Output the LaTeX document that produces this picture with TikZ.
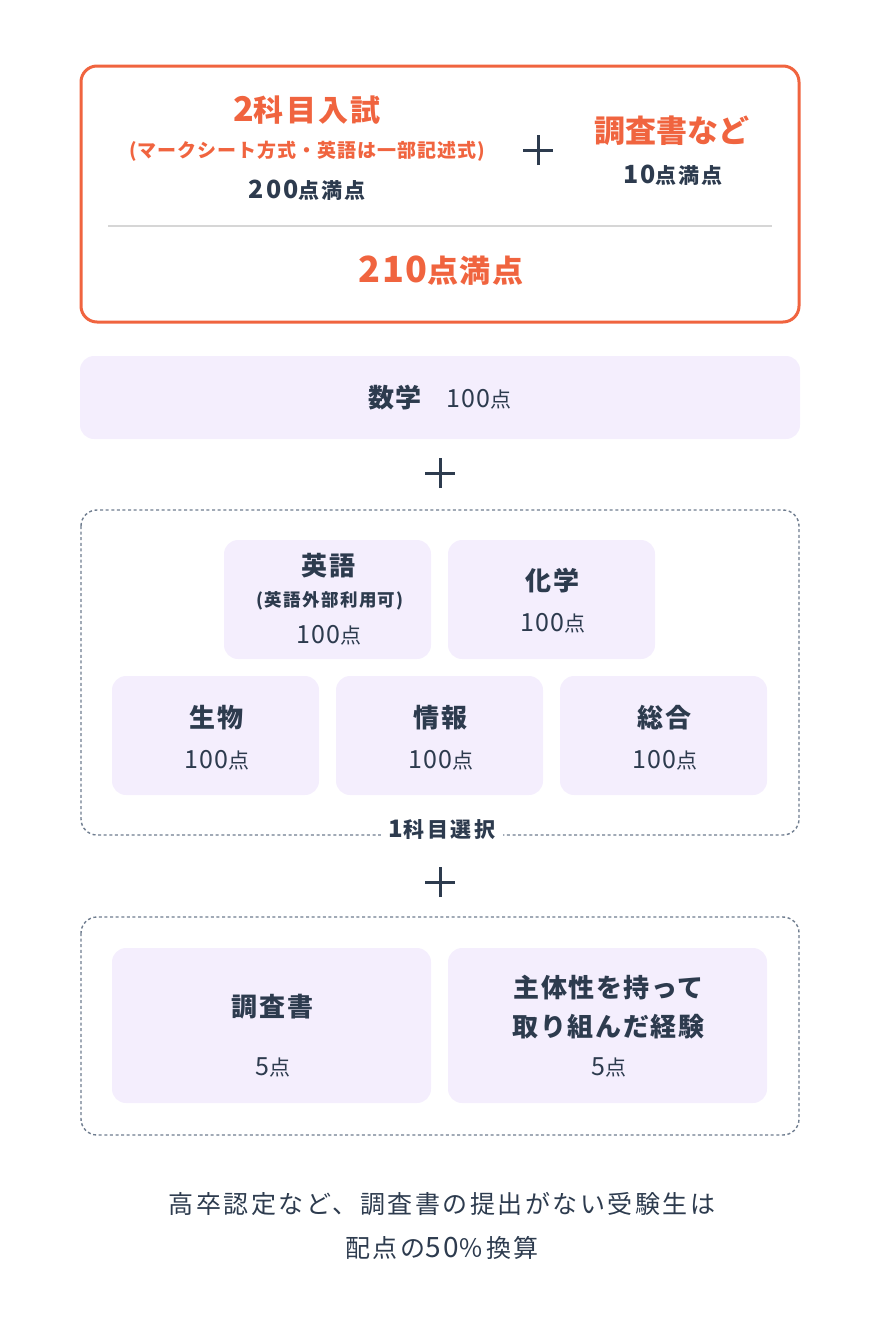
\documentclass[tikz,border=0pt]{standalone}
\usepackage{fontspec}
\setmainfont{Noto Sans CJK JP}
\newfontfamily\jp{Noto Sans CJK JP}
\definecolor{accent}{HTML}{F0643F}
\definecolor{ink}{HTML}{2D3B4E}
\definecolor{lav}{HTML}{F4EEFD}
\definecolor{dashgray}{HTML}{6F7D8F}
\definecolor{rulegray}{HTML}{D6D6D6}
\newcommand{\fs}[1]{\fontsize{#1}{#1}\selectfont}
\newcommand{\ls}[1]{\addfontfeature{LetterSpace=#1}}
\newcommand{\dg}[2]{{\fs{#1}#2}}
\begin{document}
\begin{tikzpicture}[x=1pt,y=-1pt,
  every node/.style={inner sep=0pt,outer sep=0pt,anchor=center},
  card/.style={fill=lav,rounded corners=14pt,draw=none},
  group/.style={draw=dashgray,line width=1.4pt,dash pattern=on 3pt off 2.6pt,rounded corners=16pt},
  title/.style={font=\jp\bfseries\fs{26}\ls{6},text=ink},
  sub/.style={font=\jp\bfseries\fs{17.5}\ls{8},text=ink},
  pts/.style={font=\jp\fs{21}\ls{4},text=ink},
  plusbar/.style={draw=ink,line width=3pt}]
\useasboundingbox (0,0) rectangle (880,1336);

% top box
\draw[accent,line width=3pt,rounded corners=16pt] (81,66) rectangle (799,322);
\node[font=\jp\bfseries\fs{30}\ls{8},text=accent] (t1) at (307,110) {\dg{34}{2}科目入試};
\node[font=\jp\bfseries\fs{19}\ls{5},text=accent] (t1s) at (307,151) {(マークシート方式・英語は一部記述式)};
\node[font=\jp\bfseries\fs{21}\ls{9},text=ink] (t1p) at (307,190) {\dg{25}{200}点満点};
\coordinate (p1) at (538,150);
\draw[plusbar] ([xshift=-15pt]p1) -- ([xshift=15pt]p1);
\draw[plusbar] ([yshift=-15pt]p1) -- ([yshift=15pt]p1);
\node[font=\jp\bfseries\fs{31},text=accent] (t2) at (672,131) {調査書など};
\node[font=\jp\bfseries\fs{21}\ls{9},text=ink] (t2p) at (673,175) {\dg{25}{10}点満点};
\coordinate (r1) at (108,226);
\coordinate (r2) at (772,226);
\draw[rulegray,line width=1.6pt] (r1) -- (r2);
\node[font=\jp\bfseries\fs{31}\ls{4},text=accent] (tot) at (441,271) {\dg{36}{210}点満点};

% math
\node[card,minimum width=720pt,minimum height=83pt] (math) at (440,397.5) {};
\node[title] (mathT) at (395,398) {数学};
\node[pts] (mathP) at (479,399) {\dg{25}{100}点};

\coordinate (p2) at (440,473);
\draw[plusbar] ([xshift=-15pt]p2) -- ([xshift=15pt]p2);
\draw[plusbar] ([yshift=-15pt]p2) -- ([yshift=15pt]p2);

% choice group
\draw[group] (81,510) rectangle (799,835);
\node[card,minimum width=207pt,minimum height=119pt] (eng) at (327.5,599.5) {};
\node[title] (engT) at (328.5,566) {英語};
\node[sub] (engS) at (330,601) {(英語外部利用可)};
\node[pts] (engP) at (329,635) {\dg{25}{100}点};
\node[card,minimum width=207pt,minimum height=119pt] (chem) at (551.5,599.5) {};
\node[title] (chemT) at (552.5,581) {化学};
\node[pts] (chemP) at (553,623) {\dg{25}{100}点};
\node[card,minimum width=207pt,minimum height=119pt] (bio) at (215.5,735.5) {};
\node[title] (bioT) at (216.5,718) {生物};
\node[pts] (bioP) at (217,760) {\dg{25}{100}点};
\node[card,minimum width=207pt,minimum height=119pt] (info) at (439.5,735.5) {};
\node[title] (infoT) at (440.5,718) {情報};
\node[pts] (infoP) at (441,760) {\dg{25}{100}点};
\node[card,minimum width=207pt,minimum height=119pt] (gen) at (663.5,735.5) {};
\node[title] (genT) at (664.5,718) {総合};
\node[pts] (genP) at (665,760) {\dg{25}{100}点};
\node[fill=white,inner xsep=8pt,inner ysep=3pt,font=\jp\bfseries\fs{21}\ls{12},text=ink] (sel) at (442,830) {\dg{24}{1}科目選択};

\coordinate (p3) at (440,882);
\draw[plusbar] ([xshift=-15pt]p3) -- ([xshift=15pt]p3);
\draw[plusbar] ([yshift=-15pt]p3) -- ([yshift=15pt]p3);

% report group
\draw[group] (81,917) rectangle (799,1135);
\node[card,minimum width=319pt,minimum height=155pt] (rep) at (271.5,1025.5) {};
\node[title] (repT) at (272.5,1007) {調査書};
\node[pts] (repP) at (273,1067) {\dg{25}{5}点};
\node[card,minimum width=319pt,minimum height=155pt] (act) at (607.5,1025.5) {};
\node[title] (actT1) at (608.5,988) {主体性を持って};
\node[title] (actT2) at (608.5,1027) {取り組んだ経験};
\node[pts] (actP) at (609,1067) {\dg{25}{5}点};

% footer
\node[font=\jp\fs{25}\ls{10},text=ink] (f1) at (442,1204) {高卒認定など、調査書の提出がない受験生は};
\node[font=\jp\fs{25}\ls{10},text=ink] (f2) at (442,1248) {配点の\dg{28}{50}％換算};
\end{tikzpicture}
\end{document}
